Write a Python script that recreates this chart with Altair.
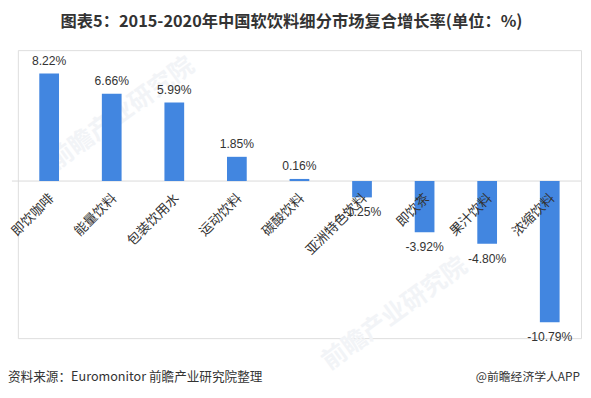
import altair as alt
import pandas as pd

categories = ["即饮咖啡", "能量饮料", "包装饮用水", "运动饮料", "碳酸饮料",
              "亚洲特色饮料", "即饮茶", "果汁饮料", "浓缩饮料"]
growth = [8.22, 6.66, 5.99, 1.85, 0.16, -1.25, -3.92, -4.80, -10.79]
value_labels = ["8.22%", "6.66%", "5.99%", "1.85%", "0.16%",
                "-1.25%", "-3.92%", "-4.80%", "-10.79%"]

title_text = "图表5：2015-2020年中国软饮料细分市场复合增长率(单位：%)"
source_text = "资料来源：Euromonitor 前瞻产业研究院整理"
brand_text = "@前瞻经济学人APP"
watermark_text = "前瞻产业研究院"

df = pd.DataFrame({"cat": categories, "v": growth, "lab": value_labels})

W, H = 571, 292
CJK = "Noto Sans CJK SC"

xenc = alt.X("cat:N", sort=categories, axis=None,
             scale=alt.Scale(paddingInner=0, paddingOuter=0))
yscale = alt.Scale(domain=[-12, 10], nice=False, zero=True)
yenc = alt.Y("v:Q", axis=None, scale=yscale)

base = alt.Chart(df)

one = pd.DataFrame({"a": [0]})

# faint watermarks
wm1 = alt.Chart(one).mark_text(
    text=watermark_text, angle=324, fontSize=25, fontWeight="bold",
    font=CJK, color="#f2f4f7", align="center", baseline="middle"
).encode(x=alt.value(105), y=alt.value(64))
wm2 = alt.Chart(one).mark_text(
    text=watermark_text, angle=324, fontSize=25, fontWeight="bold",
    font=CJK, color="#f2f4f7", align="center", baseline="middle"
).encode(x=alt.value(382), y=alt.value(267))

zero_line = alt.Chart(pd.DataFrame({"z": [0]})).mark_rule(
    color="#d9d9d9", strokeWidth=1
).encode(y=alt.Y("z:Q", scale=yscale, axis=None), x=alt.value(-6), x2=alt.value(W))

bars = base.mark_bar(size=20, color="#4286e0").encode(x=xenc, y=yenc)

pos_lab = base.transform_filter("datum.v >= 0").mark_text(
    dy=-13, baseline="middle", align="center", fontSize=12.3,
    font="Liberation Sans", color="#333333"
).encode(x=xenc, y=yenc, text="lab:N")

neg_lab = base.transform_filter("datum.v < 0").mark_text(
    dy=15, baseline="middle", align="center", fontSize=12.3,
    font="Liberation Sans", color="#333333"
).encode(x=xenc, y=yenc, text="lab:N")

cat_lab = base.mark_text(
    angle=315, align="right", baseline="top", dx=-9, dy=6,
    fontSize=13.5, font=CJK, color="#333333"
).encode(x=xenc, y=alt.Y(datum=0, scale=yscale), text="cat:N")

source = alt.Chart(one).mark_text(
    text=source_text, align="left", baseline="middle", fontSize=12.8,
    font=CJK, color="#333333"
).encode(x=alt.value(-10), y=alt.value(331))
brand = alt.Chart(one).mark_text(
    text=brand_text, align="right", baseline="middle", fontSize=12,
    font=CJK, color="#333333"
).encode(x=alt.value(W - 1), y=alt.value(331))

chart = alt.layer(
    wm1, wm2, zero_line, bars, pos_lab, neg_lab, cat_lab, source, brand
).properties(
    width=W, height=H,
    title=alt.Title(title_text, fontSize=16.5, fontWeight="bold", font=CJK,
                    color="#333333", anchor="middle", offset=20, dx=-8),
    autosize=alt.AutoSizeParams(type="none"),
    padding={"left": 10, "top": 40, "right": 2, "bottom": 58},
).configure_view(stroke=None).configure(background="white")

chart.save("out.html", embed_options={"renderer": "svg", "actions": False})
